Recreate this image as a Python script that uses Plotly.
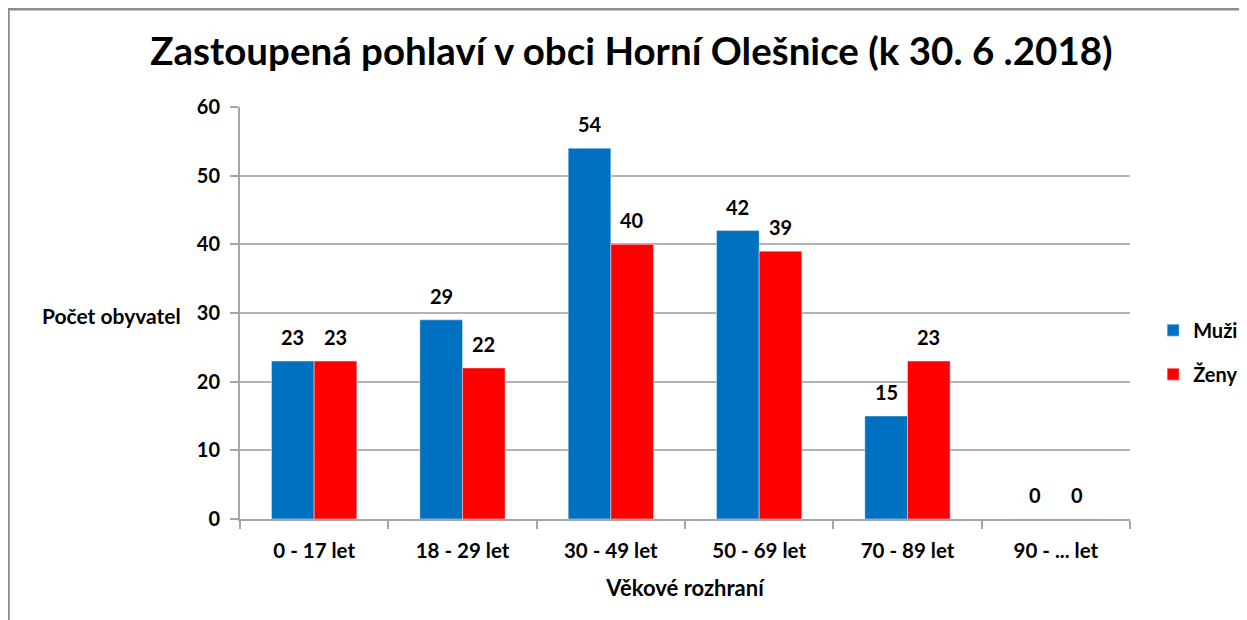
import plotly.graph_objects as go

categories = ["0 - 17 let", "18 - 29 let", "30 - 49 let", "50 - 69 let", "70 - 89 let", "90 - ... let"]
muzi = [23, 29, 54, 42, 15, 0]
zeny = [23, 22, 40, 39, 23, 0]
y_ticks = [0, 10, 20, 30, 40, 50, 60]

FONT = "Lato"
BARGAP = 0.425
PLOT_W = 890
PLOT_H = 412
M_L, M_T = 232, 99
bar_px = PLOT_W / len(categories) * (1 - BARGAP) / 2

fig = go.Figure()
fig.add_trace(go.Bar(name="Muži", x=categories, y=muzi, marker_color="#0070C0",
                     legendgroup="m"))
fig.add_trace(go.Bar(name="Ženy", x=categories, y=zeny, marker_color="#FF0000",
                     legendgroup="z"))

# data labels
for vals, sh in ((muzi, -bar_px / 2), (zeny, bar_px / 2)):
    for c, v in zip(categories, vals):
        fig.add_annotation(x=c, y=v, text=f"<b>{v}</b>", showarrow=False,
                           xshift=sh, yshift=10, yanchor="bottom", xanchor="center",
                           font=dict(family=FONT, size=20, color="black"))

fig.update_layout(
    width=1247, height=620,
    margin=dict(l=M_L, r=1247 - M_L - PLOT_W, t=M_T, b=620 - M_T - PLOT_H, autoexpand=False),
    paper_bgcolor="white", plot_bgcolor="white",
    barmode="group", bargap=BARGAP, bargroupgap=0,
    font=dict(family=FONT, size=20, color="black", weight="bold"),
    title=dict(text="<b>Zastoupená pohlaví v obci Horní Olešnice (k 30. 6 .2018)</b>",
               x=0.5, xanchor="center", y=0.929, yanchor="middle",
               font=dict(family=FONT, size=38.5, color="black")),
    showlegend=True,
    legend=dict(x=1.026, y=0.405, xanchor="left", yanchor="middle",
                font=dict(family=FONT, size=20, color="black", weight="bold"),
                itemwidth=30, tracegroupgap=15, bgcolor="rgba(0,0,0,0)"),
    xaxis=dict(showline=True, linecolor="#A6A6A6", linewidth=2,
               ticks="outside", tickson="boundaries", ticklen=8, tickcolor="#A6A6A6", tickwidth=2,
               ticklabelstandoff=12,
               tickfont=dict(family=FONT, size=20.5, color="black", weight="bold"),
               title=dict(text="<b>Věkové rozhraní</b>", font=dict(family=FONT, size=22), standoff=20)),
    yaxis=dict(range=[0, 60], tickvals=y_ticks, showline=True, linecolor="#A6A6A6", linewidth=2,
               ticks="outside", ticklen=8, tickcolor="#A6A6A6", tickwidth=2,
               ticklabelstandoff=6,
               showgrid=True, gridcolor="#B3B3B3", gridwidth=2, zeroline=False,
               tickfont=dict(family=FONT, size=20, color="black", weight="bold")),
)

fig.add_annotation(text="<b>Počet obyvatel</b>", xref="paper", yref="paper",
                   x=-0.064, y=0.493, xanchor="right", yanchor="middle", showarrow=False,
                   font=dict(family=FONT, size=21, color="black"))

# chart frame: only the top and left edges are visible
px_x = lambda fx: (fx - M_L) / PLOT_W
px_y = lambda fy: (M_T + PLOT_H - fy) / PLOT_H
fig.add_shape(type="line", xref="paper", yref="paper",
              x0=px_x(0), x1=px_x(1247), y0=px_y(1.2), y1=px_y(1.2),
              line=dict(color="#8C8C8C", width=2.5), layer="below")
fig.add_shape(type="line", xref="paper", yref="paper",
              x0=px_x(0.5), x1=px_x(0.5), y0=px_y(0), y1=px_y(620),
              line=dict(color="#8C8C8C", width=2.5), layer="below")

fig.write_html("out.html")
